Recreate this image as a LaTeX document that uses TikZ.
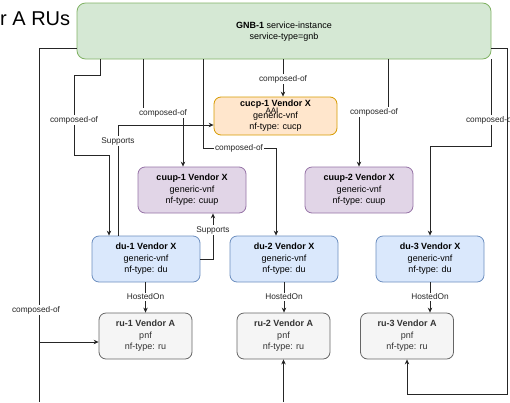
\documentclass[tikz,border=0pt]{standalone}
\usepackage{fontspec}
\setmainfont{Liberation Sans}
\usetikzlibrary{arrows.meta,calc}
\definecolor{gfill}{HTML}{D5E8D4}\definecolor{gline}{HTML}{82B366}
\definecolor{ofill}{HTML}{FFE6CC}\definecolor{oline}{HTML}{D79B00}
\definecolor{pfill}{HTML}{E1D5E7}\definecolor{pline}{HTML}{9673A6}
\definecolor{bfill}{HTML}{DAE8FC}\definecolor{bline}{HTML}{6C8EBF}
\definecolor{rfill}{HTML}{F5F5F5}\definecolor{rline}{HTML}{666666}
\definecolor{rtext}{HTML}{333333}
\begin{document}
\begin{tikzpicture}[x=1pt,y=-1pt,
  box/.style={draw, rounded corners=7pt, line width=0.8pt, align=center, inner sep=0pt,
    minimum width=108pt, minimum height=46pt, font=\fontsize{9}{11.5}\selectfont},
  gnbbox/.style={box, fill=gfill, draw=gline, rounded corners=8.5pt, minimum width=414pt, minimum height=56pt, font=\fontsize{9}{11}\selectfont},
  cucpbox/.style={box, fill=ofill, draw=oline, minimum width=123pt, minimum height=38pt},
  cuupbox/.style={box, fill=pfill, draw=pline},
  dubox/.style={box, fill=bfill, draw=bline},
  rubox/.style={box, fill=rfill, draw=rline, text=rtext, minimum width=93pt},
  conn/.style={line width=0.75pt, draw=black!85},
  arr/.style={conn, -{Stealth[length=5pt,width=4.5pt]}},
  lbl/.style={fill=white, inner sep=0.8pt, font=\fontsize{8.3}{9}\selectfont, text=black!85}
]
\useasboundingbox (0,0) rectangle (510,402);

% title fragment
\node[anchor=base west, inner sep=0pt, font=\fontsize{20}{22}\selectfont] (title) at (0,25) {r A RUs};

% boxes
\node[gnbbox] (gnb) at (284,31) {};
\node[inner sep=0pt, align=center, font=\fontsize{9}{11}\selectfont] (gnbtext) at (284,32) {\textbf{GNB-1} service-instance\\service-type=gnb};
\node[cucpbox] (cucp) at (275.5,116) {\textbf{cucp-1 Vendor X}\\generic-vnf\\nf-type: cucp};
\node[inner sep=0pt, font=\fontsize{8}{9}\selectfont] (aai) at (272,110.5) {AAI};
\node[cuupbox] (cuup1) at (192,190) {\textbf{cuup-1 Vendor X}\\generic-vnf\\nf-type: cuup};
\node[cuupbox] (cuup2) at (359,190) {\textbf{cuup-2 Vendor X}\\generic-vnf\\nf-type: cuup};
\node[dubox] (du1) at (146,259) {\textbf{du-1 Vendor X}\\generic-vnf\\nf-type: du};
\node[dubox] (du2) at (284,259) {\textbf{du-2 Vendor X}\\generic-vnf\\nf-type: du};
\node[dubox] (du3) at (430,259) {\textbf{du-3 Vendor X}\\generic-vnf\\nf-type: du};
\node[rubox] (ru1) at (145.5,336) {\textbf{ru-1 Vendor A}\\pnf\\nf-type: ru};
\node[rubox] (ru2) at (283.5,336) {\textbf{ru-2 Vendor A}\\pnf\\nf-type: ru};
\node[rubox] (ru3) at (407,336) {\textbf{ru-3 Vendor A}\\pnf\\nf-type: ru};

% free ends at the picture's lower edge
\coordinate (bot1) at (39,402);
\coordinate (bot2) at (ru2.south |- 0,402);
\coordinate (j1) at (39,342);

% composed-of connectors
\draw[conn] (gnb.west |- 0,48) -| (bot1);
\draw[arr] (j1) -- (ru1.west |- j1);
\draw[arr] (gnb.south -| 100,0) |- (74,75) |- (109,155) -- (du1.north -| 109,0);
\draw[arr] (gnb.south -| 143,0) |- (183,113) -- (cuup1.north -| 183,0);
\draw[arr] (gnb.south -| 203,0) |- (276,148) -- (du2.north -| 276,0);
\draw[arr] (gnb.south -| 283,0) -- (cucp.north -| 283,0);
\draw[arr] (gnb.south -| 388,0) |- (359,112) -- (cuup2.north -| 359,0);
\draw[arr] (gnb.south east) |- (430,146) -- (du3.north);
\draw[arr] (bot2) -- (ru2.south);

% supports
\draw[arr] (du1.north -| 118,0) |- (cucp.west |- 0,125);
\draw[arr] (du1.east) -| (cuup1.south -| 213,0);

% hosted on
\draw[arr] (du1.south -| ru1.north) -- (ru1.north);
\draw[arr] (du2.south) -- (ru2.north -| du2.south);
\draw[arr] (du3.south) -- (ru3.north -| du3.south);

% labels
\node[lbl] (l1) at (36,310) {composed-of};
\node[lbl] (l2) at (74,120) {composed-of};
\node[lbl] (l3) at (163,113) {composed-of};
\node[lbl] (l4) at (239,148) {composed-of};
\node[lbl] (l5) at (283,79) {composed-of};
\node[lbl] (l6) at (374,112) {composed-of};
\node[lbl] (l7) at (490,120) {composed-of};
\node[lbl] (s1) at (118,141) {Supports};
\node[lbl] (s2) at (213,230) {Supports};
\node[lbl] (h1) at (145.5,297) {HostedOn};
\node[lbl] (h2) at (284,297) {HostedOn};
\node[lbl] (h3) at (430,297) {HostedOn};

% outer right connector, drawn over the cut label as in the reference
\draw[arr] (gnb.east |- 0,48) -| (507,394) -| (ru3.south);
\end{tikzpicture}
\end{document}
